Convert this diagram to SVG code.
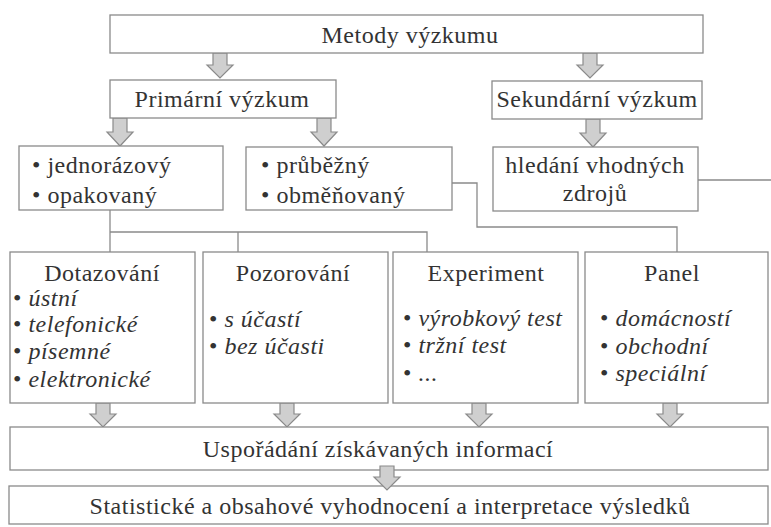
<svg xmlns="http://www.w3.org/2000/svg" width="771" height="527" viewBox="0 0 771 527">
<defs>
<style>
.box{fill:#fff;stroke:#8a8a8a;stroke-width:1.3}
.t{font-family:"Liberation Serif","Times New Roman",serif;font-size:24px;fill:#333;letter-spacing:0.5px}
.c{text-anchor:middle}
.i{font-style:italic}
.ln{fill:none;stroke:#8a8a8a;stroke-width:1.3}
.ar{fill:#cfcfcf;stroke:#8a8a8a;stroke-width:1.2;stroke-linejoin:miter}
</style>
<path id="a25" d="M-7,0 H7 V12 H13 L0,25 L-13,12 H-7 Z"/>
<path id="a28" d="M-7,0 H7 V14 H13 L0,28 L-13,14 H-7 Z"/>
<path id="a24" d="M-7,0 H7 V11 H13 L0,24 L-13,11 H-7 Z"/>
</defs>
<rect width="771" height="527" fill="#fff"/>

<g id="connectors">
<polyline class="ln" points="110,210 110,252"/>
<polyline class="ln" points="110,232 427,232 427,252"/>
<polyline class="ln" points="238,232 238,252"/>
<polyline class="ln" points="452,183 477,183 477,227 677,227 677,252"/>
<polyline class="ln" points="698,180 771,180"/>
<use href="#a25" class="ar" x="220" y="53"/>
<use href="#a25" class="ar" x="590" y="53"/>
<use href="#a28" class="ar" x="120" y="118"/>
<use href="#a28" class="ar" x="324" y="118"/>
<use href="#a28" class="ar" x="593" y="119"/>
<use href="#a24" class="ar" x="103" y="403"/>
<use href="#a24" class="ar" x="287" y="403"/>
<use href="#a24" class="ar" x="479" y="403"/>
<use href="#a24" class="ar" x="670" y="403"/>
</g>

<g id="metody">
<rect class="box" x="110" y="15" width="593" height="38"/>
<text class="t c" x="410" y="43">Metody výzkumu</text>
</g>
<g id="primarni">
<rect class="box" x="110" y="80" width="226" height="38"/>
<text class="t c" x="222" y="107">Primární výzkum</text>
</g>
<g id="sekundarni">
<rect class="box" x="492" y="81" width="210" height="38"/>
<text class="t c" x="597" y="107">Sekundární výzkum</text>
</g>
<g id="jednorazovy">
<rect class="box" x="19" y="146" width="204" height="64"/>
<text class="t" x="32" y="173">• jednorázový</text>
<text class="t" x="32" y="203">• opakovaný</text>
</g>
<g id="prubezny">
<rect class="box" x="246" y="147" width="206" height="63"/>
<text class="t" x="261" y="173">• průběžný</text>
<text class="t" x="261" y="203">• obměňovaný</text>
</g>
<g id="hledani">
<rect class="box" x="493" y="147" width="205" height="64"/>
<text class="t c" x="595" y="173">hledání vhodných</text>
<text class="t c" x="595" y="201">zdrojů</text>
</g>
<g id="dotazovani">
<rect class="box" x="10" y="252" width="185" height="151"/>
<text class="t c" x="102" y="281">Dotazování</text>
<text class="t" x="13" y="306">• <tspan class="i">ústní</tspan></text>
<text class="t" x="13" y="332">• <tspan class="i">telefonické</tspan></text>
<text class="t" x="13" y="359">• <tspan class="i">písemné</tspan></text>
<text class="t" x="13" y="387">• <tspan class="i">elektronické</tspan></text>
</g>
<g id="pozorovani">
<rect class="box" x="203" y="252" width="185" height="151"/>
<text class="t c" x="293" y="281">Pozorování</text>
<text class="t" x="209" y="327">• <tspan class="i">s účastí</tspan></text>
<text class="t" x="209" y="354">• <tspan class="i">bez účasti</tspan></text>
</g>
<g id="experiment">
<rect class="box" x="393" y="252" width="185" height="151"/>
<text class="t c" x="486" y="281">Experiment</text>
<text class="t" x="403" y="326">• <tspan class="i">výrobkový test</tspan></text>
<text class="t" x="403" y="353">• <tspan class="i">tržní test</tspan></text>
<text class="t" x="403" y="381">• <tspan class="i">...</tspan></text>
</g>
<g id="panel">
<rect class="box" x="585" y="252" width="183" height="151"/>
<text class="t c" x="672" y="281">Panel</text>
<text class="t" x="600" y="326">• <tspan class="i">domácností</tspan></text>
<text class="t" x="600" y="354">• <tspan class="i">obchodní</tspan></text>
<text class="t" x="600" y="381">• <tspan class="i">speciální</tspan></text>
</g>
<g id="usporadani">
<rect class="box" x="10" y="427" width="758" height="43"/>
<text class="t c" x="378" y="457">Uspořádání získávaných informací</text>
</g>
<g id="statisticke">
<rect class="box" x="9" y="486" width="759" height="38"/>
<text class="t c" x="390" y="514">Statistické a obsahové vyhodnocení a interpretace výsledků</text>
</g>
<g id="connectors-front">
<use href="#a24" class="ar" x="387" y="466"/>
</g>
</svg>
